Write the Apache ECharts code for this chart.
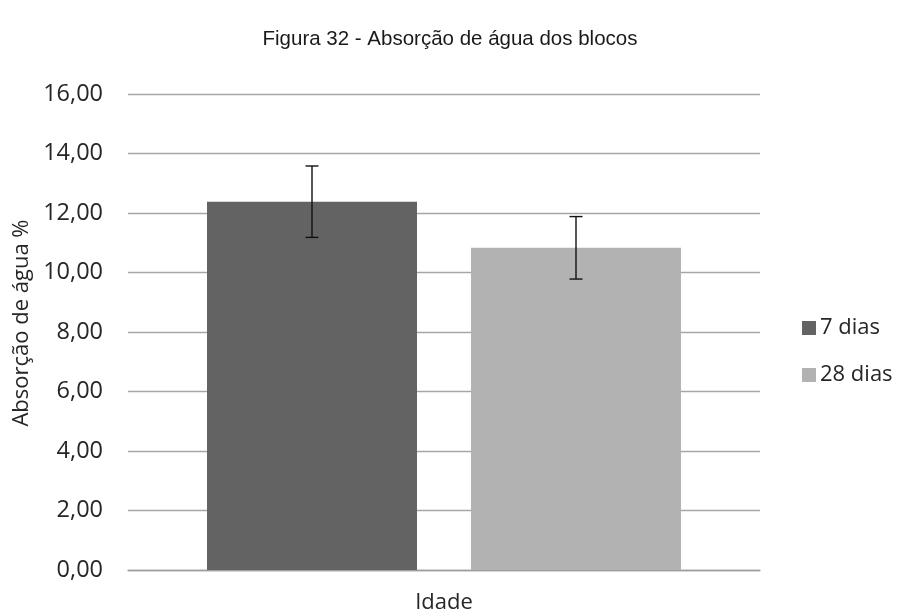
<!DOCTYPE html>
<html>
<head>
<meta charset="utf-8">
<script src="https://cdn.jsdelivr.net/npm/echarts@6/dist/echarts.min.js"></script>
<style>
  html, body { margin: 0; padding: 0; background: #fff; }
  #chart { width: 900px; height: 615px; }
</style>
</head>
<body>
<div id="chart"></div>
<script>
// Water absorption of the blocks at each curing age
const categories = ['Idade'];
const seriesNames = ['7 dias', '28 dias'];
const means = [12.38, 10.83];
const stdDevs = [1.20, 1.05];
const yTicks = [0, 2, 4, 6, 8, 10, 12, 14, 16];
const colors = ['#636363', '#b2b2b2'];

const BAR_W = 210;      // px
const BAR_GAP = 54;     // px between the two bars
const labelFont = '"Open Sans", "Liberation Sans", sans-serif';

const chart = echarts.init(document.getElementById('chart'), null, { renderer: 'canvas' });

const barSeries = seriesNames.map((name, i) => ({
  name,
  type: 'bar',
  data: [means[i]],
  barWidth: BAR_W,
  barGap: (BAR_GAP / BAR_W * 100) + '%',
  itemStyle: { color: colors[i] },
  z: 2
}));

// error bars (mean ± standard deviation), one per series, drawn over the bars
const errorSeries = {
  type: 'custom',
  name: 'erro',
  z: 5,
  silent: true,
  data: seriesNames.map((n, i) => [0, means[i] - stdDevs[i], means[i] + stdDevs[i], i]),
  encode: { x: 0, y: [1, 2] },
  renderItem(params, api) {
    const idx = api.value(3);
    const center = api.coord([api.value(0), 0])[0];
    const offset = (idx === 0 ? -1 : 1) * (BAR_W + BAR_GAP) / 2;
    const x = center + offset;
    const lo = api.coord([api.value(0), api.value(1)])[1];
    const hi = api.coord([api.value(0), api.value(2)])[1];
    const cap = 6.5;
    const style = { stroke: '#111', lineWidth: 1.4 };
    return {
      type: 'group',
      children: [
        { type: 'line', shape: { x1: x, y1: hi, x2: x, y2: lo }, style },
        { type: 'line', shape: { x1: x - cap, y1: hi, x2: x + cap, y2: hi }, style },
        { type: 'line', shape: { x1: x - cap, y1: lo, x2: x + cap, y2: lo }, style }
      ]
    };
  }
};

chart.setOption({
  animation: false,
  backgroundColor: '#ffffff',
  title: {
    text: 'Figura 32 - Absorção de água dos blocos',
    left: 'center',
    top: 24,
    textStyle: {
      fontFamily: '"Liberation Sans", Arial, sans-serif',
      fontSize: 20.5,
      fontWeight: 'normal',
      color: '#1a1a1a'
    }
  },
  legend: {
    data: seriesNames,
    orient: 'vertical',
    left: 797,
    top: 312,
    itemWidth: 14,
    itemHeight: 14,
    itemGap: 25,
    icon: 'rect',
    textStyle: { fontFamily: labelFont, fontSize: 22, color: '#262626', padding: [0, 0, 0, -1] }
  },
  grid: { left: 128, right: 140, top: 94, bottom: 45, containLabel: false, outerBoundsMode: 'none' },
  xAxis: {
    type: 'category',
    data: categories,
    name: 'Idade',
    nameLocation: 'middle',
    nameGap: 22,
    nameTextStyle: { fontFamily: labelFont, fontSize: 22, color: '#262626' },
    axisLabel: { show: false },
    axisTick: { show: false },
    axisLine: { lineStyle: { color: '#9e9e9e', width: 1.3 } }
  },
  yAxis: {
    type: 'value',
    min: yTicks[0],
    max: yTicks[yTicks.length - 1],
    interval: yTicks[1] - yTicks[0],
    name: 'Absorção de água %',
    nameLocation: 'middle',
    nameGap: 90,
    nameTextStyle: { fontFamily: labelFont, fontSize: 22, color: '#262626', padding: [0, 0, 0, 18] },
    axisLine: { show: false },
    axisTick: { show: false },
    axisLabel: {
      margin: 25,
      fontFamily: labelFont,
      fontSize: 23.5,
      color: '#262626',
      formatter: v => v.toFixed(2).replace('.', ',')
    },
    splitLine: { lineStyle: { color: '#a6a6a6', width: 1.3 } }
  },
  series: [...barSeries, errorSeries]
});
</script>
</body>
</html>
